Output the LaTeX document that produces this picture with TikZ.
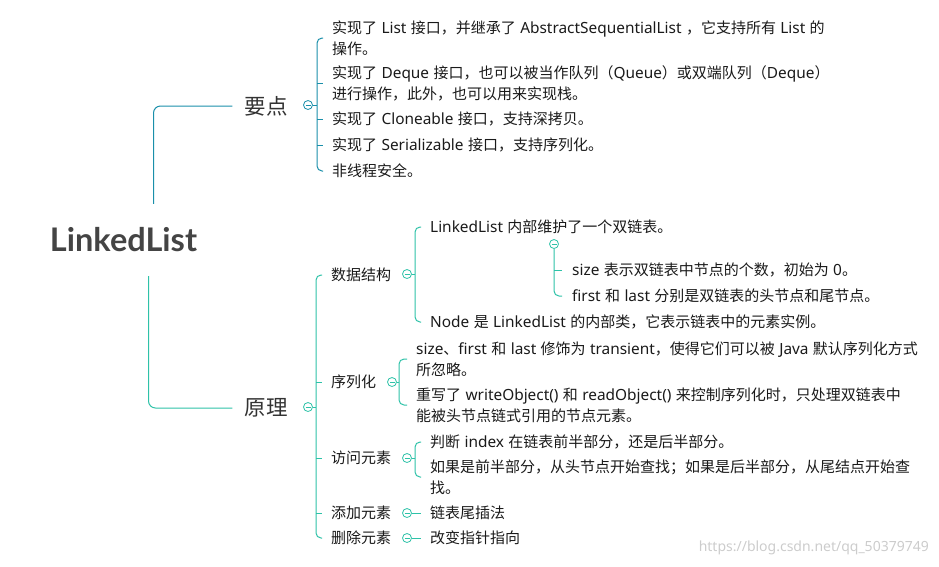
\documentclass[tikz,border=0pt]{standalone}
\usepackage{fontspec}
\setmainfont{Noto Sans CJK SC}[WordSpace=1.3]
\newfontfamily\latf{Noto Sans}
\newfontfamily\titlef{Lato}
\newcommand\lw[1]{{\latf\fontsize{15.4pt}{21pt}\selectfont #1}}
\definecolor{topc}{HTML}{1A8FAA}
\definecolor{botc}{HTML}{2EC2A8}
\definecolor{titlec}{HTML}{444444}
\definecolor{topicc}{HTML}{333333}
\definecolor{textc}{HTML}{1A1A1A}
\definecolor{markc}{HTML}{CCCCCC}
\begin{document}
\begin{tikzpicture}[x=1pt,y=-1pt,
  leaf/.style={anchor=west,inner sep=0pt,align=left,text=textc,font=\fontsize{15pt}{21pt}\selectfont},
  sub/.style={anchor=west,inner sep=0pt,text=textc,font=\fontsize{15pt}{21pt}\selectfont},
  topic/.style={inner xsep=12pt,inner ysep=2pt,text=topicc,font=\fontsize{21.5pt}{24pt}\selectfont},
  topl/.style={draw=topc,line width=1pt},
  botl/.style={draw=botc,line width=1pt},
  fold/.style={circle,draw,fill=white,minimum size=9pt,inner sep=0pt,line width=0.8pt},
]
\useasboundingbox (0,0) rectangle (939,566);

% root and topics
\node[font=\titlef\bfseries\fontsize{32.5pt}{36pt}\selectfont,text=titlec,minimum height=72pt,inner sep=0pt] (root) at (123.5,240) {LinkedList};
\node[topic] (yd) at (266,106) {要点};
\node[topic] (yl) at (266,408) {原理};

\draw[topl,rounded corners=7pt] ([xshift=30pt]root.north) |- (yd.west);
\draw[botl,rounded corners=7pt] ([xshift=25pt]root.south) |- (yl.west);

% ---------- 要点 ----------
\node[fold,draw=topc] (c1) at (308,105) {};
\coordinate (b1) at (317,105);
\node[leaf] (k1) at (332,38) {实现了 \lw{List} 接口，并继承了 \lw{AbstractSequentialList} ，它支持所有 \lw{List} 的\\操作。};
\node[leaf] (k2) at (332,83.5) {实现了 \lw{Deque} 接口，也可以被当作队列（\lw{Queue}）或双端队列（\lw{Deque}）\\进行操作，此外，也可以用来实现栈。};
\node[leaf] (k3) at (332,119) {实现了 \lw{Cloneable} 接口，支持深拷贝。};
\node[leaf] (k4) at (332,145) {实现了 \lw{Serializable} 接口，支持序列化。};
\node[leaf] (k5) at (332,171) {非线程安全。};
\draw[topl] (c1) -- (b1);
\draw[topl,rounded corners=5pt] ([xshift=-9pt]k1.west) -| (b1) |- ([xshift=-9pt]k5.west);
\foreach \k in {k2,k3,k4} \draw[topl] (b1 |- \k.west) -- ([xshift=-9pt]\k.west);

% ---------- 原理 ----------
\node[fold,draw=botc] (c2) at (308,407) {};
\coordinate (b2) at (316,407);
\node[sub] (s1) at (331,275) {数据结构};
\node[sub] (s2) at (331,382) {序列化};
\node[sub] (s3) at (331,458) {访问元素};
\node[sub] (s4) at (331,513) {添加元素};
\node[sub] (s5) at (331,538) {删除元素};
\draw[botl] (c2) -- (b2);
\draw[botl,rounded corners=5pt] ([xshift=-9pt]s1.west) -| (b2) |- ([xshift=-9pt]s5.west);
\foreach \k in {s2,s3,s4} \draw[botl] (b2 |- \k.west) -- ([xshift=-9pt]\k.west);

% 数据结构
\node[fold,draw=botc] (c3) at (407,274) {};
\coordinate (b3) at (415,274);
\node[leaf] (d1) at (430,227) {\lw{LinkedList} 内部维护了一个双链表。};
\node[leaf] (d2) at (430,322) {\lw{Node} 是 \lw{LinkedList} 的内部类，它表示链表中的元素实例。};
\draw[botl] (c3) -- (b3);
\draw[botl,rounded corners=5pt] ([xshift=-9pt]d1.west) -| (b3) |- ([xshift=-9pt]d2.west);

\node[fold,draw=botc] (c4) at (554,244) {};
\node[leaf] (e1) at (572,270) {\lw{size} 表示双链表中节点的个数，初始为 \lw{0}。};
\node[leaf] (e2) at (572,296) {\lw{first} 和 \lw{last} 分别是双链表的头节点和尾节点。};
\draw[botl,rounded corners=5pt] (c4.south) |- ([xshift=-10pt]e2.west);
\draw[botl] (c4.south |- e1.west) -- ([xshift=-10pt]e1.west);

% 序列化
\node[fold,draw=botc] (c5) at (392,382) {};
\coordinate (b5) at (399,382);
\node[leaf] (f1) at (416,359) {\lw{size}、\lw{first} 和 \lw{last} 修饰为 \lw{transient}，使得它们可以被 \lw{Java} 默认序列化方式\\所忽略。};
\node[leaf] (f2) at (416,405) {重写了 \lw{writeObject()} 和 \lw{readObject()} 来控制序列化时，只处理双链表中\\能被头节点链式引用的节点元素。};
\draw[botl] (c5) -- (b5);
\draw[botl,rounded corners=5pt] ([xshift=-9pt]f1.west) -| (b5) |- ([xshift=-9pt]f2.west);

% 访问元素
\node[fold,draw=botc] (c6) at (407,458) {};
\coordinate (b6) at (415,458);
\node[leaf] (g1) at (430,442) {判断 \lw{index} 在链表前半部分，还是后半部分。};
\node[leaf] (g2) at (430,477) {如果是前半部分，从头节点开始查找；如果是后半部分，从尾结点开始查\\找。};
\draw[botl] (c6) -- (b6);
\draw[botl,rounded corners=5pt] ([xshift=-9pt]g1.west) -| (b6) |- ([xshift=-9pt]g2.west);

% 添加 / 删除
\node[fold,draw=botc] (c7) at (407,513) {};
\node[leaf] (h1) at (430,513) {链表尾插法};
\draw[botl] (c7) -- ([xshift=-9pt]h1.west);
\node[fold,draw=botc] (c8) at (407,538) {};
\node[leaf] (h2) at (430,538) {改变指针指向};
\draw[botl] (c8) -- ([xshift=-9pt]h2.west);

% minus signs in fold circles
\foreach \c/\col in {c1/topc,c2/botc,c3/botc,c4/botc,c5/botc,c6/botc,c7/botc,c8/botc}
  \draw[\col,line width=0.8pt] ([xshift=-2.5pt]\c.center) -- ([xshift=2.5pt]\c.center);

% watermark
\node[anchor=east,inner sep=0pt,text=markc,font=\latf\fontsize{14pt}{16pt}\selectfont] (wm) at (929,548) {https://blog.csdn.net/qq\_50379749};
\end{tikzpicture}
\end{document}
